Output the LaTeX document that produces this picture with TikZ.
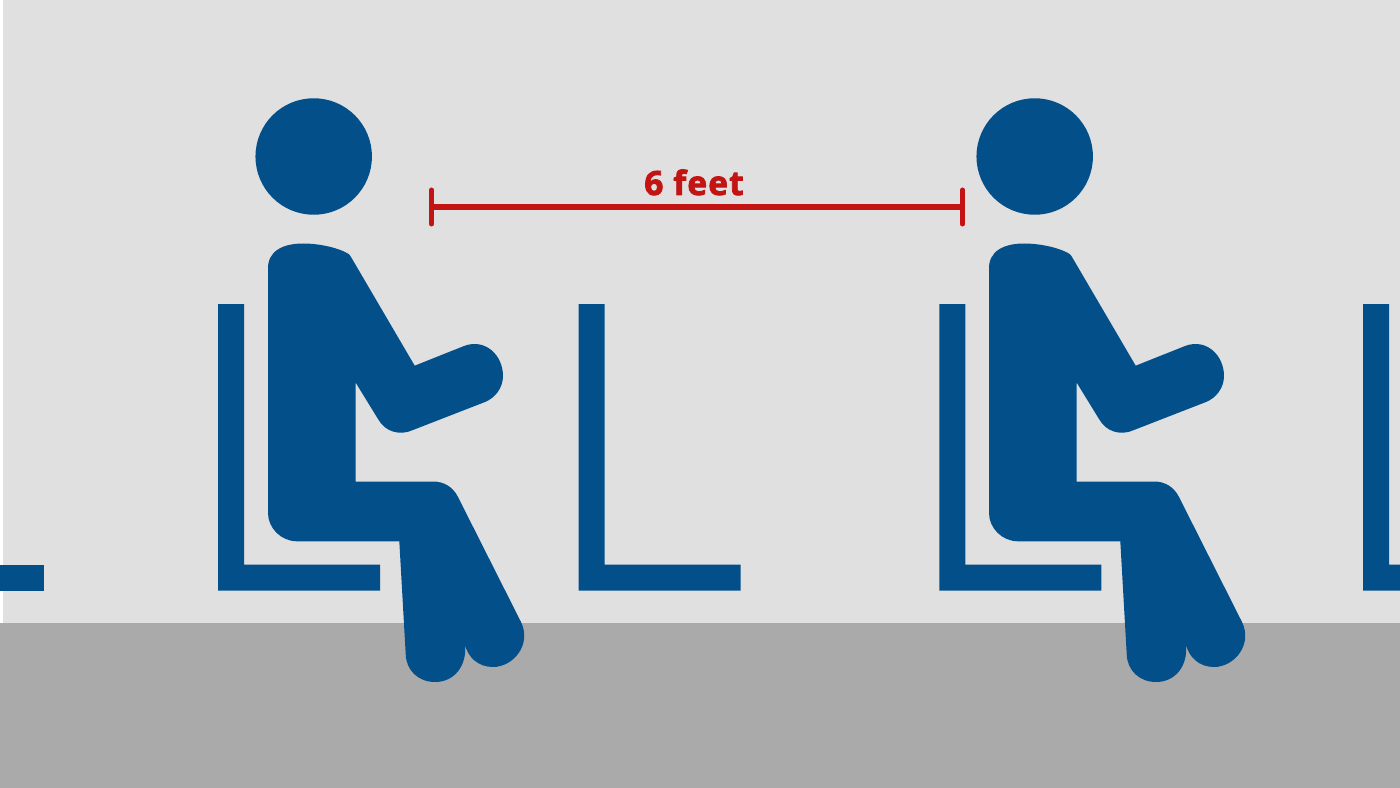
\documentclass[tikz,border=0pt]{standalone}
\usepackage{fontspec}
\setmainfont{Open Sans}
\newfontfamily\gapfont[BoldFeatures={FakeBold=2.4,LetterSpace=3.5}]{Open Sans}
\usepackage{xcolor}
\usetikzlibrary{calc}
\definecolor{figureBlue}{HTML}{034F8A}
\definecolor{wallGrey}{HTML}{E0E0E0}
\definecolor{floorGrey}{HTML}{AAAAAA}
\definecolor{gapRed}{HTML}{C31414}
\tikzset{
    wall_fill/.style={fill=wallGrey, draw=none},
    floor_fill/.style={fill=floorGrey, draw=none},
    figure_fill/.style={fill=figureBlue, draw=none},
    gap_line/.style={draw=gapRed, line width=0.05cm},
    gap_tick/.style={draw=gapRed, line width=0.05cm, line cap=round},
    gap_lbl/.style={font=\gapfont\fontsize{9.5}{12}\selectfont\bfseries, text=gapRed, inner sep=0pt},
    seat_shape/.pic={
        \fill[figure_fill] (218,304) -- (244,304) -- (244,564.5) -- (380,564.5) -- (380,590.5) -- (218,590.5) -- cycle;
    },
    person_shape/.pic={
        \fill[figure_fill] (313.7,156.5) circle [radius=0.582cm];
        \fill[figure_fill] (268,270) .. controls (267,251) and (283,243.5) .. (303,243.5)
            .. controls (320,243.5) and (338,248) .. (347,253)
            .. controls (349,254) and (350,255) .. (351,257)
            -- (414.7,365.7) -- (464,346)
            .. controls (485,338) and (503,355) .. (503,376)
            .. controls (503,388) and (495,398) .. (485,402)
            -- (413,430)
            .. controls (400,436) and (385,432) .. (378,419)
            -- (355.7,382.7) -- (355.7,481.5) -- (433,481.5)
            .. controls (444,481.5) and (453,487) .. (458,497)
            -- (521,622)
            .. controls (532,645) and (513,667) .. (493,667)
            .. controls (478,667) and (468,657) .. (465,645)
            .. controls (467,665) and (455,682) .. (435,682)
            .. controls (418,682) and (406,670) .. (405.7,654)
            -- (399.3,541.3) -- (297,541.3)
            .. controls (281,541.3) and (268,528) .. (268,513) -- cycle;
    }
}
\begin{document}
\begin{tikzpicture}[x=0.01cm, y=-0.01cm]
    \useasboundingbox (0,0) rectangle (1400,788);
    % wall and floor
    \fill[white] (0,0) rectangle (1400,788);
    \fill[wall_fill] (3,0) rectangle (1400,623);
    \fill[floor_fill] (0,623) rectangle (1400,788);

    % seats
    \fill[figure_fill] (0,564.5) rectangle (44,590.5);
    \pic at (0,0) {seat_shape};
    \pic at (360.5,0) {seat_shape};
    \pic at (721.3,0) {seat_shape};
    \fill[figure_fill] (1363,304) -- (1389,304) -- (1389,564.5) -- (1400,564.5) -- (1400,590.5) -- (1363,590.5) -- cycle;

    % people
    \pic at (0,0) {person_shape};
    \pic at (721,0) {person_shape};

    % distance marker
    \coordinate (gap_left) at (431.5,207);
    \coordinate (gap_right) at (962.5,207);
    \draw[gap_line] (gap_left) -- (gap_right);
    \draw[gap_tick] ($(gap_left)+(0,-17)$) -- ($(gap_left)+(0,17)$);
    \draw[gap_tick] ($(gap_right)+(0,-17)$) -- ($(gap_right)+(0,17)$);
    \node[gap_lbl, anchor=base] (gap_text) at (694,195) {6 feet};
\end{tikzpicture}
\end{document}
